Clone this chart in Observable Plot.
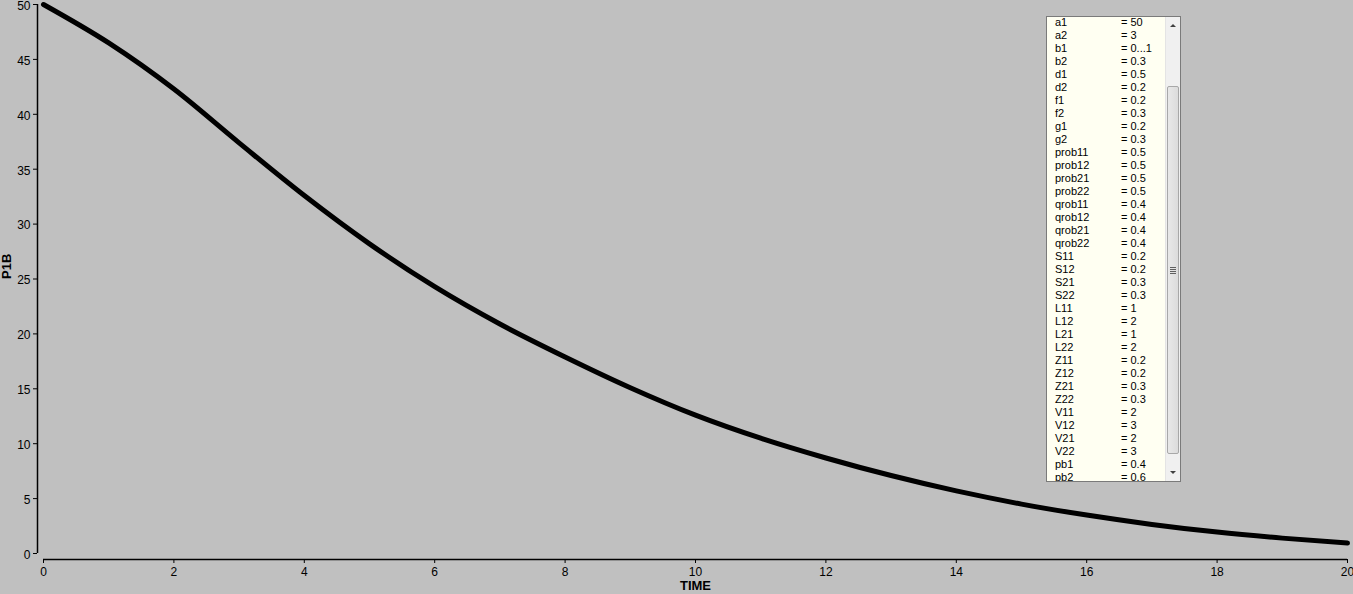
<!DOCTYPE html>
<html>
<head>
<meta charset="utf-8">
<script src="https://cdn.jsdelivr.net/npm/d3@7"></script>
<script src="https://cdn.jsdelivr.net/npm/@observablehq/plot@0.6"></script>
<style>
  html, body { margin: 0; padding: 0; background: #c0c0c0; overflow: hidden; }
  #wrap { position: relative; width: 1353px; height: 594px; }
  #params {
    position: absolute; left: 1046px; top: 16px; width: 135px; height: 466px;
    border: 1px solid #7a7a7a; background: #fffff2; overflow: hidden; box-sizing: border-box;
    font-family: "Liberation Sans", Arial, sans-serif; font-size: 11px; color: #000;
  }
  #params .row { position: absolute; left: 8px; height: 13px; line-height: 13px; white-space: nowrap; color: #000; }
  #params .row .n { display: inline-block; width: 66px; }
  #sb { position: absolute; left: 118px; top: 0; width: 15px; height: 100%; background: #f0f0f0; border-left: 1px solid #e4e4e4; }
  #thumb { position: absolute; left: 1px; top: 69px; width: 12px; height: 368px; background: linear-gradient(90deg,#e8e8e8,#dcdcdc); border: 1px solid #a8a8a8; border-radius: 2px; box-sizing: border-box; }
  .arr { position: absolute; left: 4px; width: 0; height: 0; border-left: 3px solid transparent; border-right: 3px solid transparent; }
  #up { top: 7px; border-bottom: 3px solid #404040; }
  #down { top: 454px; border-top: 3px solid #404040; }
  .grip { position: absolute; left: 4px; width: 6px; height: 1px; background: #606060; }
</style>
</head>
<body>
<div id="wrap"></div>
<script>
// ---- data ----
const time = [0, 1, 2, 3, 4, 5, 6, 7, 8, 9, 10, 11, 12, 13, 14, 15, 16, 17, 18, 19, 20];
const p1b  = [50, 46.5, 42.3, 37.4, 32.6, 28.2, 24.3, 20.9, 17.9, 15.1, 12.6, 10.5, 8.7, 7.1, 5.7, 4.5, 3.5, 2.65, 1.95, 1.4, 0.95];
const xTicks = [0, 2, 4, 6, 8, 10, 12, 14, 16, 18, 20];
const yTicks = [0, 5, 10, 15, 20, 25, 30, 35, 40, 45, 50];
const paramNames = ["a1","a2","b1","b2","d1","d2","f1","f2","g1","g2","prob11","prob12","prob21","prob22","qrob11","qrob12","qrob21","qrob22","S11","S12","S21","S22","L11","L12","L21","L22","Z11","Z12","Z21","Z22","V11","V12","V21","V22","pb1","pb2"];
const paramValues = ["50","3","0...1","0.3","0.5","0.2","0.2","0.3","0.2","0.3","0.5","0.5","0.5","0.5","0.4","0.4","0.4","0.4","0.2","0.2","0.3","0.3","1","2","1","2","0.2","0.2","0.3","0.3","2","3","2","3","0.4","0.6"];

const data = time.map((t, i) => ({t, v: p1b[i]}));
const font = "Liberation Sans, Arial, sans-serif";

const chart = Plot.plot({
  width: 1353,
  height: 594,
  marginLeft: 43,
  marginRight: 6,
  marginTop: 4,
  marginBottom: 41,
  style: {background: "#c0c0c0", fontFamily: font, fontSize: "11px", color: "#000"},
  x: {domain: [0, 20]},
  y: {domain: [0, 50]},
  marks: [
    Plot.ruleX([0], {y1: 0, y2: 50, dx: -6, stroke: "#000", strokeWidth: 1.5}),
    Plot.ruleY([0], {x1: 0, x2: 20, dy: 6, stroke: "#000", strokeWidth: 1.5}),
    Plot.axisY({ticks: yTicks, tickSize: 4, dx: -6, label: null, stroke: "#000", text: null}),
    Plot.axisY({ticks: yTicks, tickSize: 0, tickPadding: 7, dx: -6, dy: 1.5, label: null, fill: "#000", fontSize: 12, tickFormat: d => String(d)}),
    Plot.axisX({ticks: xTicks, tickSize: 4, tickPadding: 4, dy: 6, label: null, stroke: "#000", fill: "#000", fontSize: 12, tickFormat: d => String(d)}),
    Plot.line(data, {x: "t", y: "v", stroke: "#000", strokeWidth: 5, curve: "monotone-x", strokeLinecap: "round"}),
    Plot.text(["TIME"], {frameAnchor: "bottom", dy: 36, fontWeight: "bold", fontSize: 13, fill: "#000", text: d => d}),
    Plot.text(["P1B"], {frameAnchor: "left", dx: -37, rotate: -90, fontWeight: "bold", fontSize: 13, fill: "#000", text: d => d})
  ]
});

const wrap = document.getElementById("wrap");
wrap.appendChild(chart);

// parameter box
const box = document.createElement("div");
box.id = "params";
paramNames.forEach((n, i) => {
  const r = document.createElement("div");
  r.className = "row";
  r.style.top = (-1 + i * 13) + "px";
  r.innerHTML = `<span class="n">${n}</span>= ${paramValues[i]}`;
  box.appendChild(r);
});
const sb = document.createElement("div");
sb.id = "sb";
sb.innerHTML = '<div class="arr" id="up"></div><div id="thumb"></div><div class="arr" id="down"></div>';
const thumb = sb.querySelector("#thumb");
[-3, -1, 1, 3].forEach(o => {
  const g = document.createElement("div");
  g.className = "grip";
  g.style.left = "2px";
  g.style.top = (183 + o) + "px";
  thumb.appendChild(g);
});
box.appendChild(sb);
wrap.appendChild(box);
</script>
</body>
</html>
